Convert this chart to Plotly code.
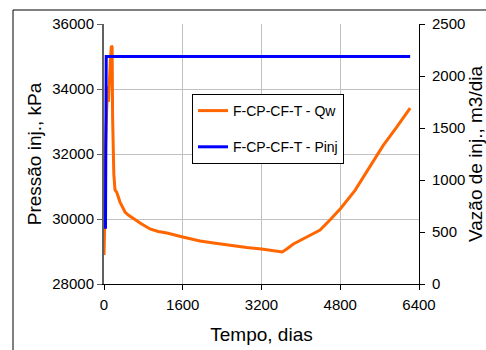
import plotly.graph_objects as go

# ---- data ----
t_qw = [0, 15, 30, 50, 70, 90, 110, 130, 150, 165, 175, 185, 200, 224, 260, 325, 380, 427,
        500, 590, 660, 732, 830, 935, 1100, 1280, 1600, 1950, 2300, 2620, 2900, 3200, 3400,
        3577, 3620, 3713, 3848, 4120, 4390, 4600, 4816, 5100, 5400, 5670, 5950, 6220]
qw = [280, 600, 1300, 1700, 1900, 1750, 2000, 2150, 2290, 2280, 1600, 1150, 1050, 904, 880,
      788, 740, 692, 660, 635, 610, 587, 555, 529, 505, 490, 452, 413, 390, 365, 350, 337, 322,
      310, 308, 337, 385, 452, 519, 620, 731, 900, 1130, 1330, 1510, 1692]

t_pinj = [30, 33, 36, 40, 45, 6220]
pinj = [29700, 30900, 32200, 33600, 35000, 35000]

x_ticks = [0, 1600, 3200, 4800, 6400]
p_ticks = [28000, 30000, 32000, 34000, 36000]
q_ticks = [0, 500, 1000, 1500, 2000, 2500]

name_qw = "F-CP-CF-T - Qw"
name_pinj = "F-CP-CF-T - Pinj"

FONT = "Liberation Sans, Arial"
tick_font = dict(family=FONT, size=15, color="black")
title_font = dict(family=FONT, size=19, color="black")

fig = go.Figure()
fig.add_trace(go.Scatter(x=t_qw, y=qw, mode="lines", name=name_qw,
                         line=dict(color="#FF6600", width=3), yaxis="y", legendgroup="a"))
fig.add_trace(go.Scatter(x=t_pinj, y=pinj, mode="lines", name=name_pinj,
                         line=dict(color="#0000FF", width=3), yaxis="y2", legendgroup="b"))

L, R, T, B = 104, 67, 24, 66
W, H = 486, 350
pw, ph = W - L - R, H - T - B

fig.update_layout(
    width=W, height=H,
    margin=dict(l=L, r=R, t=T, b=B),
    paper_bgcolor="white", plot_bgcolor="white",
    xaxis=dict(range=[0, 6400], tickvals=x_ticks, ticktext=[str(v) for v in x_ticks],
               showgrid=True, gridcolor="#c0c0c0", gridwidth=1,
               showline=True, linecolor="black", linewidth=1,
               ticks="outside", ticklen=5, tickcolor="black", ticklabelstandoff=2,
               tickfont=tick_font, zeroline=False, automargin=False,
               title=dict(text="Tempo, dias", font=title_font, standoff=15)),
    yaxis=dict(range=[0, 2500], tickvals=q_ticks, ticktext=[str(v) for v in q_ticks],
               side="right", showgrid=False, zeroline=False, automargin=False,
               showline=True, linecolor="black", linewidth=1,
               ticks="outside", ticklen=5, tickcolor="black", ticklabelstandoff=4,
               tickfont=tick_font,
               title=dict(text="Vazão de inj., m3/dia", font=title_font, standoff=1)),
    yaxis2=dict(range=[28000, 36000], tickvals=p_ticks, ticktext=[str(v) for v in p_ticks],
                side="left", overlaying="y", automargin=False,
                showgrid=True, gridcolor="#c0c0c0", gridwidth=1, zeroline=False,
                showline=True, linecolor="#606060", linewidth=2,
                ticks="outside", ticklen=5, tickcolor="#606060",
                tickfont=tick_font,
                title=dict(text="Pressão inj., kPa", font=title_font, standoff=6)),
    legend=dict(x=(192 - L) / pw, y=(H - B - 94) / ph, xanchor="left", yanchor="top",
                bordercolor="black", borderwidth=1, bgcolor="white",
                font=dict(family=FONT, size=14, color="black"),
                traceorder="grouped", tracegroupgap=15),
    showlegend=True,
    shapes=[dict(type="rect", xref="paper", yref="paper",
                 x0=(13 - L) / pw, x1=(W + 5 - L) / pw,
                 y0=(H - B - (H + 5)) / ph, y1=(H - B - 10) / ph,
                 line=dict(color="black", width=1), fillcolor="rgba(0,0,0,0)", layer="below")],
)

fig.write_html("out.html", config={"displayModeBar": False},
               post_script="document.body.style.margin='0';document.body.style.overflow='hidden';")
